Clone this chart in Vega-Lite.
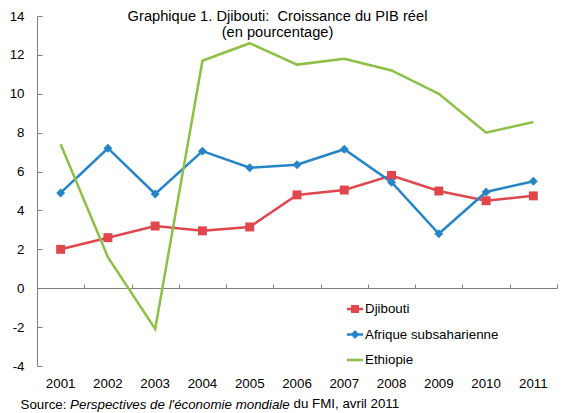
{
  "$schema": "https://vega.github.io/schema/vega-lite/v6.json",
  "width": 520,
  "height": 350,
  "autosize": {"type": "none"},
  "padding": {"left": 37, "top": 16, "right": 9, "bottom": 47},
  "background": "white",
  "config": {
    "view": {"stroke": null},
    "font": "Liberation Sans",
    "axis": {"labelFont": "Liberation Sans", "titleFont": "Liberation Sans", "labelColor": "black", "titleColor": "black"}
  },
  "title": {
    "text": ["Graphique 1. Djibouti:\u00a0 Croissance du PIB réel", "(en pourcentage)"],
    "font": "Liberation Sans",
    "fontSize": 14.67,
    "fontWeight": "normal",
    "color": "black",
    "anchor": "middle",
    "offset": 0,
    "dx": -19.5,
    "dy": 31,
    "lineHeight": 16.7
  },
  "data": {
    "values": [
      {"year": "2001", "series": "Djibouti", "value": 2.0},
      {"year": "2002", "series": "Djibouti", "value": 2.6},
      {"year": "2003", "series": "Djibouti", "value": 3.2},
      {"year": "2004", "series": "Djibouti", "value": 2.95},
      {"year": "2005", "series": "Djibouti", "value": 3.15},
      {"year": "2006", "series": "Djibouti", "value": 4.8},
      {"year": "2007", "series": "Djibouti", "value": 5.05},
      {"year": "2008", "series": "Djibouti", "value": 5.8},
      {"year": "2009", "series": "Djibouti", "value": 5.0},
      {"year": "2010", "series": "Djibouti", "value": 4.5},
      {"year": "2011", "series": "Djibouti", "value": 4.75},
      {"year": "2001", "series": "Afrique subsaharienne", "value": 4.9},
      {"year": "2002", "series": "Afrique subsaharienne", "value": 7.2},
      {"year": "2003", "series": "Afrique subsaharienne", "value": 4.85},
      {"year": "2004", "series": "Afrique subsaharienne", "value": 7.05},
      {"year": "2005", "series": "Afrique subsaharienne", "value": 6.2},
      {"year": "2006", "series": "Afrique subsaharienne", "value": 6.35},
      {"year": "2007", "series": "Afrique subsaharienne", "value": 7.15},
      {"year": "2008", "series": "Afrique subsaharienne", "value": 5.45},
      {"year": "2009", "series": "Afrique subsaharienne", "value": 2.8},
      {"year": "2010", "series": "Afrique subsaharienne", "value": 4.95},
      {"year": "2011", "series": "Afrique subsaharienne", "value": 5.5},
      {"year": "2001", "series": "Ethiopie", "value": 7.4},
      {"year": "2002", "series": "Ethiopie", "value": 1.6},
      {"year": "2003", "series": "Ethiopie", "value": -2.1},
      {"year": "2004", "series": "Ethiopie", "value": 11.7},
      {"year": "2005", "series": "Ethiopie", "value": 12.6},
      {"year": "2006", "series": "Ethiopie", "value": 11.5},
      {"year": "2007", "series": "Ethiopie", "value": 11.8},
      {"year": "2008", "series": "Ethiopie", "value": 11.2},
      {"year": "2009", "series": "Ethiopie", "value": 10.0},
      {"year": "2010", "series": "Ethiopie", "value": 8.0},
      {"year": "2011", "series": "Ethiopie", "value": 8.55}
    ]
  },
  "resolve": {"axis": {"x": "independent"}},
  "layer": [
    {
      "mark": {"type": "line", "strokeWidth": 2.5},
      "encoding": {
        "x": {
          "field": "year",
          "type": "nominal",
          "sort": "ascending",
          "scale": {"type": "band", "paddingInner": 0, "paddingOuter": 0},
          "axis": {
            "orient": "bottom",
            "domain": false,
            "ticks": false,
            "labelAngle": 0,
            "labelFontSize": 13.33,
            "labelPadding": 10,
            "title": "Perspectives de l'économie mondiale",
            "titleFontStyle": "italic",
            "titleFontWeight": "normal",
            "titleFontSize": 13.33,
            "titleAngle": 0,
            "titleAlign": "left",
            "titleBaseline": "alphabetic",
            "titleAnchor": "start",
            "titleX": 32.6,
            "titleY": 42
          }
        },
        "y": {
          "field": "value",
          "type": "quantitative",
          "scale": {"domain": [-4, 14], "nice": false, "zero": false},
          "axis": {
            "values": [-4, -2, 0, 2, 4, 6, 8, 10, 12, 14],
            "labelExpr": "replace(datum.label, '\u2212', '-')",
            "grid": false,
            "domainColor": "#808080",
            "tickColor": "#808080",
            "tickSize": -5,
            "labelPadding": 18,
            "labelFontSize": 13.33,
            "title": "Source:",
            "titleFontWeight": "normal",
            "titleFontSize": 13.33,
            "titleAngle": 0,
            "titleAlign": "left",
            "titleBaseline": "alphabetic",
            "titleX": -17,
            "titleY": 392
          }
        },
        "color": {
          "field": "series",
          "type": "nominal",
          "scale": {
            "domain": ["Djibouti", "Afrique subsaharienne", "Ethiopie"],
            "range": ["#E0474C", "#2585C8", "#8DC044"]
          },
          "legend": {
            "title": null,
            "orient": "none",
            "legendX": 310,
            "legendY": 285,
            "padding": 0,
            "symbolSize": 256,
            "labelFontSize": 13.33,
            "labelFont": "Liberation Sans",
            "labelColor": "black",
            "labelOffset": 2,
            "rowPadding": 10.5,
            "encode": {
              "symbols": {
                "update": {
                  "shape": {"signal": "datum.value === 'Djibouti' ? 'M-1,-0.16H1V0.16H-1Z M-0.5,-0.5H0.5V0.5H-0.5Z' : (datum.value === 'Afrique subsaharienne' ? 'M-1,-0.16H1V0.16H-1Z M0,-0.55L0.55,0L0,0.55L-0.55,0Z' : 'M-1,-0.16H1V0.16H-1Z')"},
                  "fill": {"signal": "datum.value === 'Djibouti' ? '#E0474C' : (datum.value === 'Afrique subsaharienne' ? '#2585C8' : '#8DC044')"},
                  "fillOpacity": {"value": 1},
                  "opacity": {"value": 1},
                  "strokeWidth": {"value": 0}
                }
              }
            }
          }
        }
      }
    },
    {
      "transform": [{"filter": "datum.series !== 'Ethiopie'"}],
      "mark": {"type": "point", "filled": true, "opacity": 1, "size": 80},
      "encoding": {
        "x": {
          "field": "year",
          "type": "nominal",
          "sort": "ascending",
          "axis": {
            "orient": "top",
            "offset": -272,
            "labels": false,
            "ticks": true,
            "tickBand": "extent",
            "tickSize": 4,
            "tickColor": "#808080",
            "domainColor": "#808080",
            "title": "du FMI, avril 2011",
            "titleFontWeight": "normal",
            "titleFontSize": 13.33,
            "titleAngle": 0,
            "titleAlign": "left",
            "titleBaseline": "alphabetic",
            "titleX": 256,
            "titleY": 119.8
          }
        },
        "y": {
          "field": "value",
          "type": "quantitative",
          "axis": {
            "values": [-4, -2, 0, 2, 4, 6, 8, 10, 12, 14],
            "labelExpr": "replace(datum.label, '\u2212', '-')",
            "grid": false,
            "domainColor": "#808080",
            "tickColor": "#808080",
            "tickSize": -5,
            "labelPadding": 18,
            "labelFontSize": 13.33,
            "title": "Source:",
            "titleFontWeight": "normal",
            "titleFontSize": 13.33,
            "titleAngle": 0,
            "titleAlign": "left",
            "titleBaseline": "alphabetic",
            "titleX": -17,
            "titleY": 392
          }
        },
        "color": {"field": "series", "type": "nominal", "legend": null},
        "shape": {
          "field": "series",
          "type": "nominal",
          "scale": {"domain": ["Djibouti", "Afrique subsaharienne"], "range": ["square", "diamond"]},
          "legend": null
        }
      }
    }
  ]
}
